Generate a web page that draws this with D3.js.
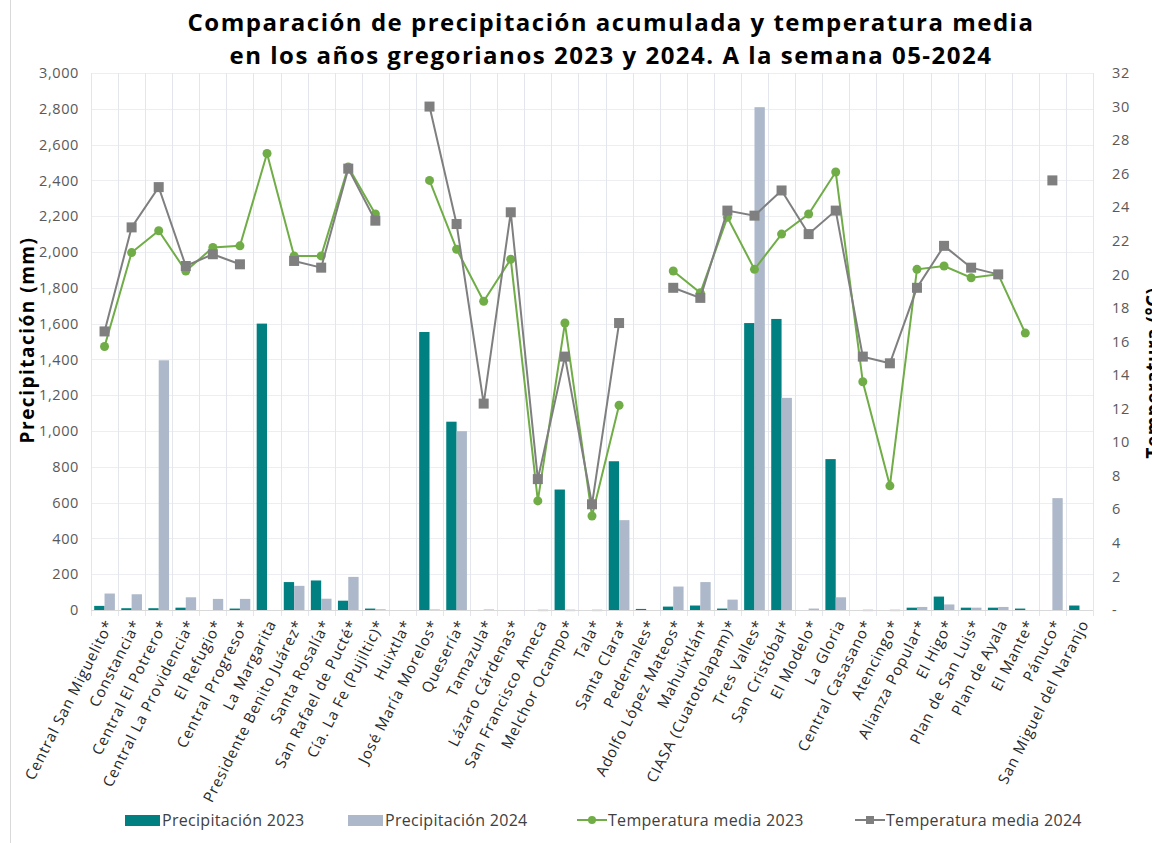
<!DOCTYPE html>
<html>
<head>
<meta charset="utf-8">
<script src="https://cdn.jsdelivr.net/npm/d3@7"></script>
<style>
  body { margin: 0; background: #fff; }
  text { font-family: "Open Sans", "DejaVu Sans", sans-serif; }
</style>
</head>
<body>
<div id="chart"></div>
<script>
'use strict';

// categories (ingenios)
var ingenios = [
  "Central San Miguelito*", "Constancia*", "Central El Potrero*", "Central La Providencia*",
  "El Refugio*", "Central Progreso*", "La Margarita", "Presidente Benito Juárez*",
  "Santa Rosalía*", "San Rafael de Pucté*", "Cía. La Fe (Pujiltic)*", "Huixtla*",
  "José María Morelos*", "Quesería*", "Tamazula*", "Lázaro Cárdenas*",
  "San Francisco Ameca", "Melchor Ocampo*", "Tala*", "Santa Clara*", "Pedernales*",
  "Adolfo López Mateos*", "Mahuixtlán*", "CIASA (Cuatotolapam)*", "Tres Valles*",
  "San Cristóbal*", "El Modelo*", "La Gloria", "Central Casasano*", "Atencingo*",
  "Alianza Popular*", "El Higo*", "Plan de San Luis*", "Plan de Ayala", "El Mante*",
  "Pánuco*", "San Miguel del Naranjo"
];

// precipitación acumulada (mm)
var prec2023 = [23, 10, 10, 13, 0, 8, 1600, 156, 165, 52, 8, 0,
  1553, 1052, 0, 0, 0, 673, 0, 831, 6,
  19, 25, 8, 1603, 1626, 0, 843, 0, 0,
  13, 75, 13, 13, 8, 0, 25];
var prec2024 = [92, 88, 1395, 71, 62, 62, 0, 135, 63, 185, 4, 0,
  3, 999, 3, 0, 2, 2, 2, 502, 0,
  131, 156, 58, 2809, 1185, 8, 71, 2, 2,
  17, 31, 13, 17, 0, 625, 0];

// temperatura media (°C), null = sin dato
var temp2023 = [15.7, 21.3, 22.6, 20.2, 21.6, 21.7, 27.2, 21.1, 21.1, 26.4, 23.6, null,
  25.6, 21.5, 18.4, 20.9, 6.5, 17.1, 5.6, 12.2, null,
  20.2, 18.9, 23.4, 20.3, 22.4, 23.6, 26.1, 13.6, 7.4,
  20.3, 20.5, 19.8, 20.0, 16.5, null, null];
var temp2024 = [16.6, 22.8, 25.2, 20.5, 21.2, 20.6, null, 20.8, 20.4, 26.3, 23.2, null,
  30.0, 23.0, 12.3, 23.7, 7.8, 15.1, 6.3, 17.1, null,
  19.2, 18.6, 23.8, 23.5, 25.0, 22.4, 23.8, 15.1, 14.7,
  19.2, 21.7, 20.4, 20.0, null, 25.6, null];

var precTicks = d3.range(0, 3001, 200);
var tempTicks = d3.range(0, 33, 2);

var C_P23 = "#008080", C_P24 = "#ADB9CA", C_T23 = "#70AD47", C_T24 = "#7F7F7F";

var W = 1152, H = 843;
var svg = d3.select("#chart").append("svg").attr("width", W).attr("height", H);

// left border of chart area
svg.append("line").attr("x1", 10.5).attr("x2", 10.5).attr("y1", 0).attr("y2", H)
  .attr("stroke", "#D9D9D9");

var x = d3.scaleBand().domain(ingenios).range([91, 1093]);
var xSub = d3.scaleBand().domain(["p23", "p24"]).range([3.2, x.bandwidth() - 3.2]);
var y = d3.scaleLinear().domain([0, 3000]).range([610, 73]);
var yT = d3.scaleLinear().domain([0, 32]).range([610, 73]);

// horizontal gridlines
svg.append("g").selectAll("line").data(precTicks.slice(1)).join("line")
  .attr("x1", 91).attr("x2", 1093)
  .attr("y1", d => Math.round(y(d)) + 0.5).attr("y2", d => Math.round(y(d)) + 0.5)
  .attr("stroke", "#EDEEF1");

// vertical gridlines between categories
var bounds = ingenios.map(d => x(d)).concat([1093]);
svg.append("g").selectAll("line").data(bounds).join("line")
  .attr("x1", d => Math.round(d) + 0.5).attr("x2", d => Math.round(d) + 0.5)
  .attr("y1", 73).attr("y2", 616)
  .attr("stroke", "#E3E6EC");

// left axis
var yAxis = d3.axisLeft(y).tickValues(precTicks).tickSize(0).tickPadding(0)
  .tickFormat(d3.format(","));
var gy = svg.append("g").attr("transform", "translate(79,0)").call(yAxis);
gy.select(".domain").remove();
gy.selectAll("text").attr("font-size", 14.5).attr("fill", "#595959")
  .attr("letter-spacing", 0.6).attr("font-family", "Open Sans, sans-serif");

// right axis
var yTAxis = d3.axisRight(yT).tickValues(tempTicks).tickSize(0).tickPadding(0)
  .tickFormat(d => d === 0 ? "-" : d);
var gyT = svg.append("g").attr("transform", "translate(1112,0)").call(yTAxis);
gyT.select(".domain").remove();
gyT.selectAll("text").attr("font-size", 14.5).attr("fill", "#595959")
  .attr("letter-spacing", 0.6).attr("font-family", "Open Sans, sans-serif");

// bars
var barData = ingenios.map((d, i) => ({ cat: d, p23: prec2023[i], p24: prec2024[i] }));
var gBars = svg.append("g");
gBars.selectAll("rect.p23").data(barData.filter(d => d.p23 > 0)).join("rect")
  .attr("class", "p23")
  .attr("x", d => x(d.cat) + xSub("p23"))
  .attr("width", xSub.bandwidth())
  .attr("y", d => y(d.p23))
  .attr("height", d => Math.max(1.5, y(0) - y(d.p23)))
  .attr("fill", C_P23);
gBars.selectAll("rect.p24").data(barData.filter(d => d.p24 > 0)).join("rect")
  .attr("class", "p24")
  .attr("x", d => x(d.cat) + xSub("p24"))
  .attr("width", xSub.bandwidth())
  .attr("y", d => y(d.p24))
  .attr("height", d => Math.max(1.5, y(0) - y(d.p24)))
  .attr("fill", C_P24);

// bottom axis line
svg.append("line").attr("x1", 91).attr("x2", 1093).attr("y1", 610.5).attr("y2", 610.5)
  .attr("stroke", "#D9D9D9");

// temperature lines
function drawTemp(vals, color, shape) {
  var pts = ingenios.map((d, i) => ({ cat: d, v: vals[i] }));
  var line = d3.line()
    .defined(d => d.v !== null)
    .x(d => x(d.cat) + x.bandwidth() / 2)
    .y(d => yT(d.v));
  svg.append("path").datum(pts).attr("d", line)
    .attr("fill", "none").attr("stroke", color).attr("stroke-width", 2);
  var m = svg.append("g").selectAll("g").data(pts.filter(d => d.v !== null)).join("g")
    .attr("transform", d => "translate(" + (x(d.cat) + x.bandwidth() / 2) + "," + yT(d.v) + ")");
  if (shape === "circle") {
    m.append("circle").attr("r", 4.5).attr("fill", color);
  } else {
    m.append("rect").attr("x", -5).attr("y", -5).attr("width", 10).attr("height", 10).attr("fill", color);
  }
}
drawTemp(temp2023, C_T23, "circle");
drawTemp(temp2024, C_T24, "square");

// category labels
svg.append("g").selectAll("text").data(ingenios).join("text")
  .attr("transform", d => "translate(" + (x(d) + x.bandwidth() / 2 + 5) + ",621) rotate(-63)")
  .attr("text-anchor", "end")
  .attr("dy", "0.35em")
  .attr("font-size", 15)
  .attr("letter-spacing", 0.9)
  .attr("fill", "#262626")
  .text(d => d);

// title
var title = svg.append("text").attr("text-anchor", "middle")
  .attr("font-size", 24).attr("font-weight", "bold").attr("fill", "#000")
  .attr("letter-spacing", 1.5);
title.append("tspan").attr("x", 611).attr("y", 31)
  .text("Comparación de precipitación acumulada y temperatura media");
title.append("tspan").attr("x", 611).attr("y", 64)
  .text("en los años gregorianos 2023 y 2024. A la semana 05-2024");

// axis titles
svg.append("text").attr("transform", "translate(34,340) rotate(-90)")
  .attr("text-anchor", "middle").attr("font-size", 19).attr("font-weight", "bold")
  .attr("letter-spacing", 1.5).attr("fill", "#000").text("Precipitación (mm)");
svg.append("text").attr("transform", "translate(1160,373) rotate(-90)")
  .attr("text-anchor", "middle").attr("font-size", 19).attr("font-weight", "bold")
  .attr("letter-spacing", 0.5).attr("fill", "#000").text("Temperatura (°C)");

// legend
var legend = svg.append("g").attr("font-size", 16).attr("fill", "#404040");
var leg = [
  { label: "Precipitación 2023", x: 125, type: "bar", color: C_P23 },
  { label: "Precipitación 2024", x: 348, type: "bar", color: C_P24 },
  { label: "Temperatura media 2023", x: 577, type: "circle", color: C_T23 },
  { label: "Temperatura media 2024", x: 855, type: "square", color: C_T24 }
];
leg.forEach(function (l) {
  var g = legend.append("g").attr("transform", "translate(" + l.x + ",820)");
  if (l.type === "bar") {
    g.append("rect").attr("x", 0).attr("y", -5).attr("width", 35).attr("height", 11).attr("fill", l.color);
  } else {
    g.append("line").attr("x1", 0).attr("x2", 30).attr("y1", 0).attr("y2", 0)
      .attr("stroke", l.color).attr("stroke-width", 2);
    if (l.type === "circle") g.append("circle").attr("cx", 15).attr("cy", 0).attr("r", 4).attr("fill", l.color);
    else g.append("rect").attr("x", 11).attr("y", -4).attr("width", 8).attr("height", 8).attr("fill", l.color);
  }
  g.append("text").attr("x", l.type === "bar" ? 37 : 31).attr("dy", "0.35em")
    .attr("letter-spacing", 0.3).attr("fill", "#404040").text(l.label);
});
</script>
</body>
</html>
